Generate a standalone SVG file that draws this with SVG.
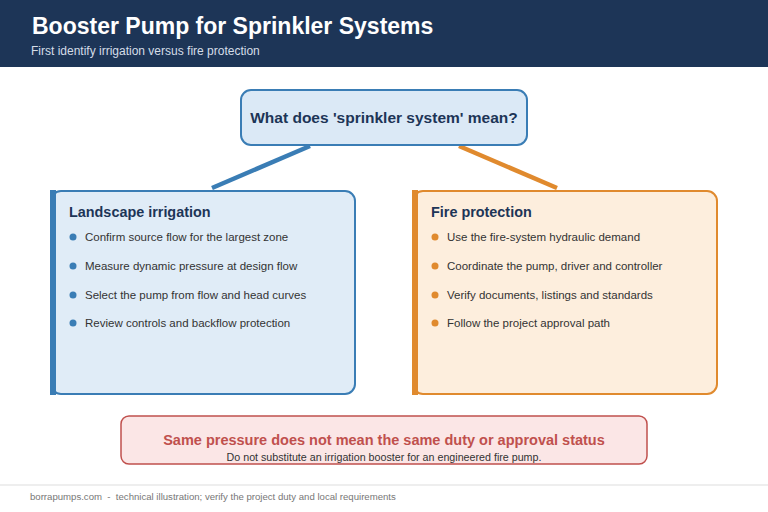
<svg xmlns="http://www.w3.org/2000/svg" width="768" height="512" viewBox="0 0 768 512">
<style>
text{font-family:"Liberation Sans",Arial,sans-serif}
.h{font-size:14.4px;font-weight:bold;fill:#1d3557}
.b{font-size:11.5px;fill:#333}
.bl{fill:#3a7db5}
.bo{fill:#e08a2e}
</style>
<rect width="768" height="512" fill="#ffffff"/>
<g id="header">
<rect x="0" y="0" width="768" height="67" fill="#1d3557"/>
<text x="32" y="34" font-size="23" font-weight="bold" fill="#ffffff">Booster Pump for Sprinkler Systems</text>
<text x="31" y="55" font-size="12" fill="#d5dde8">First identify irrigation versus fire protection</text>
</g>
<g id="connectors" fill="none" stroke-width="4.5">
<line x1="310" y1="146" x2="212" y2="188" stroke="#3a7db5"/>
<line x1="459" y1="146" x2="557" y2="188" stroke="#e08a2e"/>
</g>
<g id="question">
<rect x="241" y="90" width="286" height="55" rx="10" fill="#dbe9f6" stroke="#3a7db5" stroke-width="2"/>
<text x="384" y="123" text-anchor="middle" font-size="15.5" font-weight="bold" fill="#1d3557">What does 'sprinkler system' mean?</text>
</g>
<g id="irrigation">
<rect x="51" y="191" width="304" height="203" rx="10" fill="#e0ecf7" stroke="#3a7db5" stroke-width="2"/>
<rect x="50" y="190" width="6" height="205" class="bl"/>
<text x="69" y="217" class="h">Landscape irrigation</text>
<circle cx="73" cy="237" r="3.5" class="bl"/><text x="85" y="241" class="b">Confirm source flow for the largest zone</text>
<circle cx="73" cy="266" r="3.5" class="bl"/><text x="85" y="270" class="b">Measure dynamic pressure at design flow</text>
<circle cx="73" cy="295" r="3.5" class="bl"/><text x="85" y="299" class="b">Select the pump from flow and head curves</text>
<circle cx="73" cy="323" r="3.5" class="bl"/><text x="85" y="327" class="b">Review controls and backflow protection</text>
</g>
<g id="fire">
<rect x="413" y="191" width="304" height="203" rx="10" fill="#fdeedd" stroke="#e08a2e" stroke-width="2"/>
<rect x="412" y="190" width="6" height="205" class="bo"/>
<text x="431" y="217" class="h">Fire protection</text>
<circle cx="435" cy="237" r="3.5" class="bo"/><text x="447" y="241" class="b">Use the fire-system hydraulic demand</text>
<circle cx="435" cy="266" r="3.5" class="bo"/><text x="447" y="270" class="b">Coordinate the pump, driver and controller</text>
<circle cx="435" cy="295" r="3.5" class="bo"/><text x="447" y="299" class="b">Verify documents, listings and standards</text>
<circle cx="435" cy="323" r="3.5" class="bo"/><text x="447" y="327" class="b">Follow the project approval path</text>
</g>
<g id="warning">
<rect x="121" y="416" width="526" height="48" rx="8" fill="#fbe6e6" stroke="#c0504d" stroke-width="1.5"/>
<text x="384" y="445" text-anchor="middle" font-size="14.5" font-weight="bold" fill="#c0504d">Same pressure does not mean the same duty or approval status</text>
<text x="384" y="461" text-anchor="middle" font-size="10.7" fill="#333">Do not substitute an irrigation booster for an engineered fire pump.</text>
</g>
<g id="footer">
<line x1="0" y1="485" x2="768" y2="485" stroke="#dddddd" stroke-width="1"/>
<text x="30" y="500" font-size="9.6" fill="#777" style="white-space:pre">borrapumps.com  -  technical illustration; verify the project duty and local requirements</text>
</g>
</svg>
